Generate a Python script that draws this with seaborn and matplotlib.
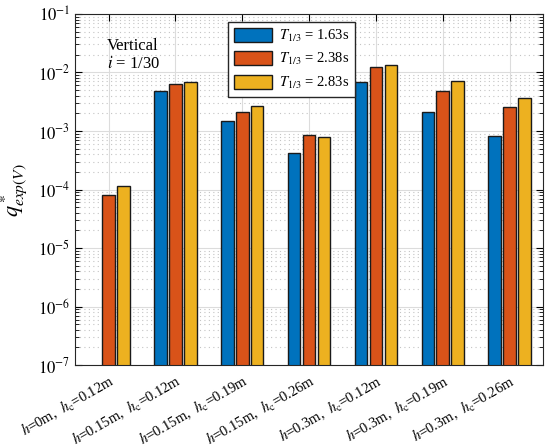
import numpy as np
import pandas as pd
import matplotlib
matplotlib.use("Agg")
import matplotlib.pyplot as plt
import matplotlib.ticker as mticker
import seaborn as sns

# Test conditions (water depth h, crest height h_c)
conditions = [
    r"$h$=0m,  $h_{\rm c}$=0.12m",
    r"$h$=0.15m,  $h_{\rm c}$=0.12m",
    r"$h$=0.15m,  $h_{\rm c}$=0.19m",
    r"$h$=0.15m,  $h_{\rm c}$=0.26m",
    r"$h$=0.3m,  $h_{\rm c}$=0.12m",
    r"$h$=0.3m,  $h_{\rm c}$=0.19m",
    r"$h$=0.3m,  $h_{\rm c}$=0.26m",
]
periods = [r"$T_{1/3}$ = 1.63s", r"$T_{1/3}$ = 2.38s", r"$T_{1/3}$ = 2.83s"]

# Dimensionless overtopping rate for each wave period
q_t163 = [np.nan, 4.8e-3, 1.48e-3, 4.2e-4, 6.8e-3, 2.14e-3, 8.2e-4]
q_t238 = [8.2e-5, 6.4e-3, 2.14e-3, 8.4e-4, 1.26e-2, 4.9e-3, 2.57e-3]
q_t283 = [1.14e-4, 6.9e-3, 2.64e-3, 7.8e-4, 1.36e-2, 7.1e-3, 3.63e-3]

colors = ["#0072BD", "#D95319", "#EDB120"]

df = pd.DataFrame({
    "condition": conditions * 3,
    "period": [p for p in periods for _ in conditions],
    "q": q_t163 + q_t238 + q_t283,
})

plt.rcParams["font.family"] = ["Liberation Serif", "DejaVu Serif"]
plt.rcParams["mathtext.fontset"] = "stix"

fig = plt.figure(figsize=(5.48, 4.48), dpi=100)
ax = fig.add_axes([0.137, 0.185, 0.854, 0.784])
ax.set_yscale("log")

sns.barplot(data=df, x="condition", y="q", hue="period", hue_order=periods,
            order=conditions, palette=colors, saturation=1, width=0.67, gap=0.15,
            edgecolor="#1a1a1a", linewidth=1.0, ax=ax, legend=True)

ax.set_ylim(1e-7, 1e-1)
ax.set_xlim(-0.5, 6.5)

# Grid: solid major lines, dotted minor lines on the log axis
ax.set_axisbelow(True)
ax.grid(True, which="major", color="#dcdcdc", linewidth=0.8, linestyle="-")
ax.yaxis.set_minor_locator(mticker.LogLocator(base=10, subs=np.arange(2, 10), numticks=20))
ax.yaxis.set_minor_formatter(mticker.NullFormatter())
ax.grid(True, which="minor", axis="y", color="#c4c4c4", linewidth=0.8, linestyle=(0, (1, 3)))

ax.set_yticks([1e-7, 1e-6, 1e-5, 1e-4, 1e-3, 1e-2, 1e-1])
ax.set_yticklabels([rf"$10^{{{e}}}$" for e in range(-7, 0)], fontsize=12)

ax.tick_params(axis="both", which="both", direction="in", top=True, right=True)
ax.tick_params(axis="both", which="major", length=5, width=0.8)
ax.tick_params(axis="y", which="minor", length=3, width=0.6)

ax.set_xticks(range(len(conditions)))
ax.set_xticklabels(conditions, rotation=30, ha="right", va="top",
                   rotation_mode="anchor", fontsize=10.5)
ax.tick_params(axis="x", pad=5)

for s in ax.spines.values():
    s.set_color("#262626")
    s.set_linewidth(0.8)

ax.set_xlabel("")
ax.set_ylabel(r"$q^*_{exp(V)}$", fontsize=16, labelpad=6)

ax.text(0.124, 0.884, "Vertical\n" + r"$i$ = 1/30", transform=ax.transAxes,
        ha="center", va="center", fontsize=12, linespacing=1.15)

ax.legend(loc="upper left", bbox_to_anchor=(0.327, 0.977), fontsize=10.5,
          frameon=True, fancybox=False, edgecolor="#262626", framealpha=1,
          handlelength=2.6, handleheight=1.1, borderpad=0.4, labelspacing=0.5,
          handletextpad=0.5, borderaxespad=0, title=None)

fig.savefig("out.png", dpi=100)
